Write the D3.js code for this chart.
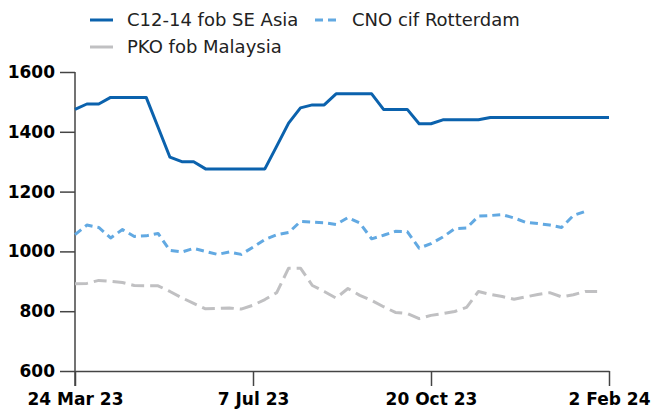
<!DOCTYPE html>
<html>
<head>
<meta http-equiv="Content-type" content="text/html; charset=utf-8">
<title>Lauric oils</title>
<script src="https://cdnjs.cloudflare.com/ajax/libs/d3/7.8.5/d3.min.js"></script>
<style>
  body { margin: 0; background: #fff; }
  svg text { font-family: "DejaVu Sans", sans-serif; }
  .tick text { font-weight: bold; font-size: 17px; fill: #000; }
  .legend text { font-size: 18px; fill: #222; }
</style>
</head>
<body>
<svg id="chart" width="651" height="410"></svg>
<script>
  // weekly prices, USD/t, starting 24 Mar 23
  var startDate = new Date(2023, 2, 24);
  var c12Values = [1475, 1493, 1493, 1515, 1515, 1515, 1515, 1415, 1315, 1300,
                   1300, 1276, 1276, 1276, 1276, 1276, 1276, 1352, 1429, 1480,
                   1490, 1490, 1527, 1527, 1527, 1527, 1475, 1475, 1475, 1427,
                   1427, 1440, 1440, 1440, 1440, 1448, 1448, 1448, 1448, 1448,
                   1448, 1448, 1448, 1448, 1448, 1448];
  var cnoValues = [1056, 1088, 1080, 1045, 1073, 1050, 1052, 1060, 1003, 998,
                   1010, 1000, 990, 998, 990, 1014, 1040, 1056, 1063, 1100,
                   1098, 1096, 1090, 1113, 1095, 1042, 1054, 1067, 1066, 1011,
                   1026, 1048, 1076, 1078, 1118, 1120, 1123, 1112, 1097, 1093,
                   1088, 1080, 1120, 1134];
  var pkoValues = [892, 893, 903, 900, 896, 886, 885, 885, 866, 845,
                   826, 808, 809, 811, 807, 820, 839, 862, 944, 944,
                   886, 866, 844, 876, 853, 836, 815, 796, 792, 775,
                   786, 792, 799, 813, 866, 856, 849, 840, 848, 856,
                   862, 848, 855, 866, 866];
  var seriesNames = ["C12-14 fob SE Asia", "CNO cif Rotterdam", "PKO fob Malaysia"];
  var yTicks = [600, 800, 1000, 1200, 1400, 1600];
  var xTickDates = [new Date(2023, 2, 24), new Date(2023, 6, 7), new Date(2023, 9, 20), new Date(2024, 1, 2)];

  var colors = ["#0b62ad", "#62a9e2", "#c0c0c2"];
  var dashes = [null, "8,5", "13,6"];

  function toPoints(vals) {
    return vals.map(function (v, i) {
      return { date: d3.timeDay.offset(startDate, i * 7), value: v };
    });
  }
  var series = [toPoints(c12Values), toPoints(cnoValues), toPoints(pkoValues)];

  var svg = d3.select("#chart");
  var x = d3.scaleTime().domain([xTickDates[0], xTickDates[3]]).range([75, 609]);
  var y = d3.scaleLinear().domain([600, 1600]).range([371, 72]);

  var fmt = d3.timeFormat("%-d %b %y");

  // y axis
  var gy = svg.append("g").attr("transform", "translate(75,0)")
    .call(d3.axisLeft(y).tickValues(yTicks).tickFormat(d3.format("d")).tickSize(15).tickSizeOuter(0).tickPadding(5));
  gy.attr("font-family", null).attr("font-size", null);
  gy.select(".domain").remove();
  gy.selectAll("line").attr("stroke", "#444").attr("stroke-width", 1.5);
  gy.append("line").attr("x1", 0).attr("x2", 0).attr("y1", 72).attr("y2", 386)
    .attr("stroke", "#444").attr("stroke-width", 1.5);

  // x axis
  var gx = svg.append("g").attr("transform", "translate(0,371)")
    .call(d3.axisBottom(x).tickValues(xTickDates).tickFormat(fmt).tickSize(15).tickSizeOuter(0).tickPadding(5));
  gx.attr("font-family", null).attr("font-size", null);
  gx.select(".domain").attr("stroke", "#444").attr("stroke-width", 1.5);
  gx.selectAll("line").attr("stroke", "#444").attr("stroke-width", 1.5);
  gx.selectAll("text").attr("dy", "0.82em");

  var line = d3.line().x(function (d) { return x(d.date); }).y(function (d) { return y(d.value); });

  // draw PKO, CNO, then C12 on top
  [2, 1, 0].forEach(function (k) {
    svg.append("path")
      .datum(series[k])
      .attr("d", line)
      .attr("fill", "none")
      .attr("stroke", colors[k])
      .attr("stroke-width", 3)
      .attr("stroke-linejoin", "round")
      .attr("stroke-dasharray", dashes[k]);
  });

  // legend
  var legendPos = [{ x: 90, y: 20 }, { x: 315, y: 20 }, { x: 90, y: 47 }];
  var lg = svg.append("g").attr("class", "legend");
  seriesNames.forEach(function (name, k) {
    var p = legendPos[k];
    lg.append("line")
      .attr("x1", p.x).attr("x2", p.x + 23).attr("y1", p.y).attr("y2", p.y)
      .attr("stroke", colors[k]).attr("stroke-width", 3)
      .attr("stroke-dasharray", k === 1 ? "8,5" : null);
    lg.append("text").attr("x", p.x + 37).attr("y", p.y).attr("dy", "0.35em").text(name);
  });
</script>
</body>
</html>
